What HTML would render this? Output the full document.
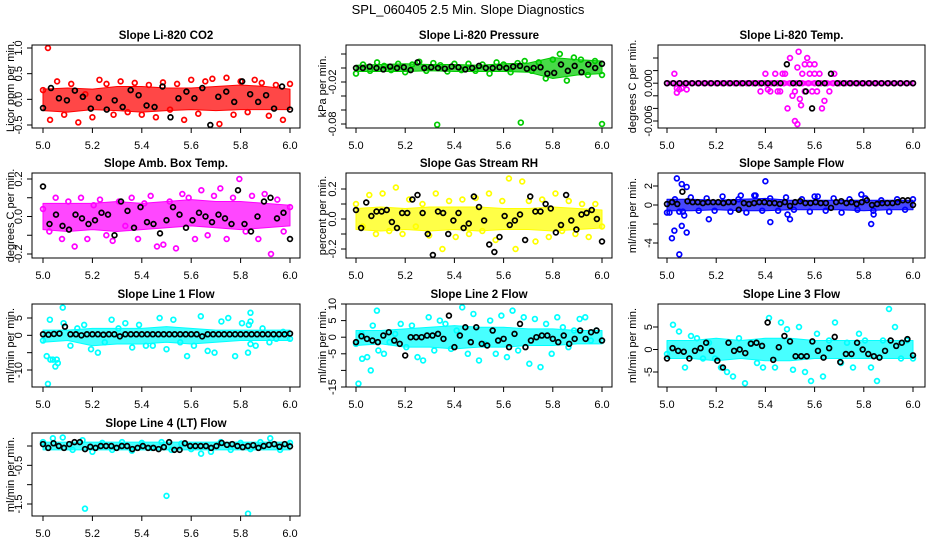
<!DOCTYPE html>
<html><head><meta charset="utf-8"><style>
html,body{margin:0;padding:0;background:#fff;}
svg{display:block;font-family:"Liberation Sans",Helvetica,Arial,sans-serif;}
</style></head><body>
<svg id="chart" width="936" height="540" viewBox="0 0 936 540" xmlns="http://www.w3.org/2000/svg">
<rect x="0" y="0" width="936" height="540" fill="#fff"/>
<text x="468" y="14" font-size="13" text-anchor="middle">SPL_060405  2.5 Min. Slope Diagnostics</text>
</svg>
<script>
// ---- data ----
const xTicks=[5.0,5.2,5.4,5.6,5.8,6.0];
const titles=["Slope Li-820 CO2","Slope Li-820 Pressure","Slope Li-820 Temp.","Slope Amb. Box Temp.","Slope Gas Stream RH","Slope Sample Flow","Slope Line 1 Flow","Slope Line 2 Flow","Slope Line 3 Flow","Slope Line 4 (LT) Flow"];
const yTitles=["Licor ppm per min.","kPa per min.","degrees C per min.","degrees C per min.","percent per min.","ml/min per min.","ml/min per min.","ml/min per min.","ml/min per min.","ml/min per min."];
const colors=["#ff0000","#00cc00","#ff00ff","#ff00ff","#ffff00","#0000ff","#00ffff","#00ffff","#00ffff","#00ffff"];
const yTickVals=[[1,0.5,0,-0.5],[0.02,0,-0.02,-0.04,-0.06,-0.08],[0.004,0.002,0,-0.002,-0.004,-0.006],[0.2,0.1,0,-0.1,-0.2],[0.2,0.1,0,-0.1,-0.2],[2,0,-2,-4],[5,0,-5,-10],[10,5,0,-5,-10,-15],[5,0,-5],[0,-0.5,-1,-1.5]];
const yTickLabels=[["1.0","0.5","0.0","-0.5"],["","","-0.02","","","-0.08"],["","","0.000","","","-0.006"],["0.2","","0.0","","-0.2"],["0.2","","0.0","","-0.2"],["2","0","","-4"],["5","0","","-10"],["10","5","0","-5","","-15"],["5","0","-5"],["","-0.5","","-1.5"]];
const bandLo=[[-0.22,-0.25,-0.2,-0.22,-0.25,-0.22,-0.2,-0.22,-0.2,-0.2,-0.2],[-0.005,-0.005,-0.005,-0.004,-0.005,-0.005,-0.005,-0.006,-0.015,-0.01,-0.008],[-0.0003,-0.0003,-0.0003,-0.0003,-0.0003,-0.0003,-0.0003,-0.0003,-0.0003,-0.0003,-0.0003],[-0.07,-0.08,-0.07,-0.08,-0.07,-0.06,-0.05,-0.06,-0.07,-0.06,-0.05],[-0.07,-0.08,-0.07,-0.08,-0.07,-0.08,-0.07,-0.07,-0.08,-0.07,-0.06],[-0.6,-0.6,-0.5,-0.6,-0.6,-0.5,-0.5,-0.5,-0.6,-0.5,-0.5],[-2,-1.5,-3,-2.5,-2.5,-2,-2.5,-2,-1.5,-1.5,-1.5],[-2.5,-2,-3,-3,-3.5,-3,-3,-2.5,-2.5,-2,-2],[-2,-2,-2.5,-2,-2.5,-2.5,-2,-2,-2,-2,-2],[-0.1,-0.1,-0.1,-0.1,-0.1,-0.1,-0.1,-0.1,-0.1,-0.1,-0.1]];
const bandHi=[[0.2,0.22,0.2,0.25,0.25,0.22,0.22,0.25,0.28,0.25,0.2],[0.004,0.005,0.006,0.005,0.005,0.004,0.006,0.007,0.015,0.012,0.01],[0.0003,0.0003,0.0003,0.0003,0.0003,0.0003,0.0003,0.0003,0.0003,0.0003,0.0003],[0.07,0.07,0.07,0.08,0.07,0.08,0.09,0.08,0.08,0.07,0.06],[0.07,0.08,0.07,0.08,0.08,0.08,0.07,0.07,0.08,0.07,0.06],[0.6,0.6,0.5,0.6,0.7,0.5,0.5,0.5,0.5,0.5,0.5],[1.5,1.5,2,2,2,2.5,2,1.5,1.5,1.5,1.5],[2,2,2.5,3,3.5,3,3,2.5,2.5,2,2],[2,2,2.5,2,2.5,2.5,2,2,2,2,2],[0.1,0.1,0.1,0.1,0.1,0.1,0.1,0.1,0.1,0.1,0.1]];
const scatterVals=[
[0.18,-0.4,0.35,-0.3,0.3,-0.45,0.1,-0.35,0.38,0.3,-0.3,0.35,-0.25,0.32,-0.3,0.28,-0.35,0.33,-0.2,0.3,-0.4,0.38,-0.28,0.35,0.4,-0.48,0.42,-0.3,0.35,-0.25,0.38,0.32,-0.32,0.28,-0.4,0.3],
[-0.008,0.005,-0.004,0.008,0.003,-0.003,0.006,-0.006,0.005,0.009,-0.004,0.007,0.004,-0.005,0.006,-0.003,0.006,-0.004,0.005,-0.008,0.008,0.005,-0.006,0.007,0.01,-0.004,0.008,-0.015,0.012,0.02,-0.018,0.015,0.012,-0.01,0.01,-0.01],
[0,0,0,0,0,0,0,0,0,0,0,0,0,0,0,0,0,0,0,0,0,0,0,0,0,0,0,0,0,0,0,0,0,0,0,0,0,0,0,0,0],
[0.04,-0.08,0.1,-0.12,0.08,-0.16,0.1,-0.12,0.06,0.09,-0.1,-0.13,0.08,-0.05,0.1,-0.12,0.07,0.11,-0.16,-0.15,0.08,-0.17,0.12,0.1,-0.12,0.14,-0.1,0.11,0.15,-0.12,0.1,0.2,-0.08,0.11,-0.12,0.12,-0.2,0.09,-0.08,0.05],
[0.1,-0.05,0.16,-0.1,0.17,-0.08,0.21,-0.1,0.13,-0.05,0.1,-0.11,0.17,-0.2,0.12,-0.12,0.13,-0.1,0.14,-0.08,0.17,-0.14,0.12,0.27,-0.2,0.25,0.12,-0.15,0.13,-0.12,0.17,-0.08,0.12,-0.1,0.1,-0.12,0.1,-0.05],
[-0.8,0.6,-0.7,0.8,-0.6,0.7,-0.6,0.9,-0.7,0.6,-0.8,1.0,-0.6,0.7,-0.6,0.8,-0.5,0.6,-0.7,0.9,-0.6,0.7,-0.8,0.6,-0.5,0.7,-0.6,0.5,-0.7,0.6,-0.5,0.6],
[-1.5,4.5,-7,3.5,-3,2,3,-4,-5,-2,4.5,2,3.5,-3.5,3,-3,-3,5,-4,4.5,-2,-6,-3,5.5,-4.5,-5,4,5,-6,3.5,3,-3,2,-2,-1,1,-1],
[-2,1,-6,3.5,-4,-5,-1.5,1,4,-3,3.5,-6,-7,6,-4,5,4,-3.5,2,9,-5,7,-7,-2,5,-5,6.5,-6,8,-4,6,-8,5.5,-9,4,-5,6,3,-3,2,5.5,6,-1,2,-1],
[-1,5.5,4,-4,3,2.5,-2,1.5,-2,-4,-5,-6,2.5,-7.5,1.5,-3,-4,7,-4,6,4.5,-4.5,5,-5,-7,3.5,-6,2,6,-3,1.5,-4,3.5,2,-4,-7,2,9,5,-2,2,-2],
[0.1,0.2,0.22,-0.1,0.15,-0.15,0.08,-0.1,0.1,-0.12,0.08,-0.05,0.1,-0.1,0.06,-0.08,-0.2,-0.15,0.1,-0.1,0.08,-0.08,0.1,0.2,-0.1,0.08]];
const outX=[[5.02],[5.33,5.67,6.0],[5.03,5.04,5.05,5.06,5.08,5.04,5.40,5.42,5.44,5.46,5.47,5.48,5.49,5.50,5.51,5.52,5.53,5.535,5.54,5.55,5.56,5.57,5.58,5.59,5.60,5.61,5.62,5.63,5.64,5.66,5.68,5.38,5.41,5.45,5.52,5.56,5.58,5.60,5.53,5.545],[],[],[5.04,5.06,5.08,5.02,5.03,5.05,5.06,5.07,5.08,5.05,5.17,5.4,5.42,5.49,5.5,5.83,5.84,5.6,5.79,5.36,5.3,5.01],[5.02,5.015,5.03,5.04,5.05,5.06,5.08,5.84,5.84,5.83,5.84],[5.01,5.06,5.085,5.025],[],[5.17,5.5,5.83]];
const outY=[[1.0],[-0.081,-0.078,-0.08],[0.0015,-0.0008,-0.001,-0.0008,-0.001,-0.0015,0.0015,-0.0013,0.0015,-0.0013,0.0015,0.0015,-0.004,0.004,-0.002,-0.0013,0.0025,0.005,-0.0025,0.0015,-0.0013,0.004,0.003,-0.0013,0.0015,-0.0013,0.0015,-0.004,-0.0028,-0.0013,0.0015,-0.0013,-0.001,-0.0013,-0.006,0.003,0.0015,0.003,-0.0065,-0.0035],[],[],[2.8,2.2,1.9,-3.5,-2.7,-5.2,-2.2,-1.1,-2.9,-0.7,-1.5,2.5,-1.8,-1.0,-1.5,-2.0,-1.0,0.9,1.1,1.0,1.0,-0.8],[-14,-6,-7,-7,-9,-8,8,6.5,4,-5,-2.5],[-14,-10,8,-6.5],[],[-1.62,-1.29,-1.75]];
const blackVals=[
[-0.17,0.22,0.02,-0.02,0.17,0.05,-0.18,0.03,-0.2,-0.02,-0.15,0.18,0.08,-0.12,-0.15,0.25,-0.35,0.02,0.15,0.02,0.22,-0.5,0.05,0.15,-0.05,0.35,0.1,-0.05,0.08,-0.18,0.25,-0.2],
[0.0,0.0,0.002,0.0,-0.002,0.002,0.0,0.001,-0.003,0.008,0.0,0.001,0.0,-0.001,0.002,0.001,-0.002,0.0,0.003,0.0,0.0,0.001,0.0,0.002,0.003,-0.001,0.0,0.001,-0.008,-0.007,0.005,-0.004,0.003,-0.006,0.005,0.0,0.006],
[0,0,0,0,0,0,0,0,0,0,0,0,0,0,0,0,0,0,0,0.003,0,0,-0.0013,-0.004,0,0,0.0015,0,0,0,0,0,0,0,0,0,0,0,0,0],
[0.16,-0.04,0.01,-0.05,-0.07,0.01,-0.01,-0.04,-0.02,0.02,0.01,-0.1,0.08,0.03,-0.06,0.05,-0.03,-0.04,-0.09,-0.02,0.05,0.01,-0.06,-0.02,0.02,0.0,-0.03,0.01,-0.01,-0.04,0.14,-0.04,-0.08,0.0,0.08,0.1,-0.01,0.02,-0.12],
[0.06,-0.06,0.11,0.02,0.05,0.05,0.06,-0.02,-0.06,0.04,0.04,0.13,0.16,0.04,-0.1,-0.24,0.05,0.04,-0.1,-0.01,0.04,-0.06,-0.03,0.15,0.08,-0.01,-0.17,-0.22,-0.12,0.02,-0.04,-0.01,0.03,-0.14,0.15,0.05,0.05,0.1,0.07,-0.09,-0.04,0.16,-0.01,-0.07,0.03,0.04,0.06,0.0,-0.15],
[0.1,0.3,0.1,1.4,0.4,0.3,0.3,0.2,0.3,0.3,0.3,0.2,0.3,0.3,-0.5,0.2,0.1,0.2,0.3,0.3,0.2,0.2,0.1,0.3,-0.1,0.3,0.4,0.2,0.2,0.3,0.2,0.2,-0.3,0.3,0.4,0.2,0.3,0.1,0.3,0.5,0.0,0.1,0.2,0.2,0.2,0.3,0.5,0.5,0.0],
[0.3,0.2,0.4,0.5,2.5,0.3,0.3,0.0,0.3,0.3,0.3,0.2,0.3,0.3,-0.3,0.3,0.3,0.3,0.3,0.3,0.3,0.3,0.3,0.3,0.3,0.3,0.3,0.3,0.3,-0.3,0.3,0.3,0.3,0.3,0.3,0.3,0.3,0.3,0.3,0.3,0.3,0.3,0.3,0.3,0.3,0.5],
[-1.5,0.3,-0.5,-1,-1.5,0.5,1.5,-1,-2,-5.5,0,0,0,0.5,0.5,1,-0.5,6.5,-3,0.5,3,-1.5,3,-2,-2.5,2,-1,-0.5,-3,1,4,-3,-1,0,0.5,0.5,-0.5,-1.5,0.5,-2,-0.5,2,-0.5,1.5,2,-1],
[-2,0.3,-0.3,-0.5,-2,-0.3,0.3,1.5,-0.3,-2.5,-4,1.5,-0.3,0,-0.8,1.3,1.5,0.8,6,-2.3,0.5,3,1.8,-1.5,-1.5,-1.5,1.8,-0.3,-1.8,0.3,2.8,-2.8,-1,-1,1.5,0,-1,-1.5,-1.8,-0.3,2,0.8,1.5,2.3,-1.3],
[0.05,-0.05,0.07,0.0,-0.05,0.05,0.1,0.1,-0.08,-0.02,-0.05,0.0,0.0,0.0,-0.05,0.0,0.0,-0.08,-0.05,0.0,-0.05,-0.05,-0.08,-0.03,0.1,-0.1,-0.1,0.07,0.0,0.0,0.0,0.0,-0.05,0.0,0.08,0.03,0.05,0.0,-0.03,0.0,0.02,-0.05,0.0,0.03,0.05,-0.02,0.05,-0.01]];

// ---- layout ----
const cols=[{l:32,r:300,x0:43,x1:290,lab:18,yt:10},{l:346,r:612,x0:356,x1:602,lab:332,yt:322},{l:658,r:925,x0:667,x1:913,lab:648,yt:632}];
const rows=[{t:45,b:128},{t:173,b:258},{t:304,b:387},{t:433,b:516}];
const yAnch=[[[1,48],[-0.5,125]],[[0.02,54],[-0.08,124]],[[0.004,58],[-0.006,121]],[[0.2,179],[-0.2,254]],[[0.2,189],[-0.2,249]],[[2,186],[-4,243]],[[5,318],[-10,370]],[[10,304],[-15,387]],[[5,327],[-5,372]],[[0,446],[-1.5,504]]];
const NS="http://www.w3.org/2000/svg";
const svg=document.getElementById('chart');
function mk(tag,attrs,parent){const e=document.createElementNS(NS,tag);for(const k in attrs)e.setAttribute(k,attrs[k]);parent.appendChild(e);return e;}
for(let p=0;p<10;p++){
  const c=cols[p%3], r=rows[Math.floor(p/3)];
  const g=mk('g',{},svg);
  
  
  const xs=v=>c.x0+(v-5)*(c.x1-c.x0);
  const a=yAnch[p];
  const ys=v=>a[0][1]+(v-a[0][0])*(a[1][1]-a[0][1])/(a[1][0]-a[0][0]);
  const col=colors[p];
  const clip=mk('clipPath',{id:'cp'+p},g);
  mk('rect',{x:c.l,y:r.t,width:c.r-c.l,height:r.b-r.t},clip);
  const pg=mk('g',{'clip-path':'url(#cp'+p+')'},g);
  
  
  const sv=scatterVals[p];
  sv.forEach((v,i)=>{const ci=mk('circle',{cx:xs(5+i/(sv.length-1)),cy:ys(v),r:2.4,fill:'none',stroke:col,'stroke-width':1.7},pg);
    
    });
  outX[p].forEach((x,i)=>{const ci=mk('circle',{cx:xs(x),cy:ys(outY[p][i]),r:2.4,fill:'none',stroke:col,'stroke-width':1.7},pg);
    
    });
  const lo=bandLo[p], hi=bandHi[p];
  let pts=[];
  hi.forEach((v,i)=>pts.push(xs(5+i/(hi.length-1))+','+ys(v)));
  for(let i=lo.length-1;i>=0;i--)pts.push(xs(5+i/(lo.length-1))+','+ys(lo[i]));
  const band=mk('polygon',{points:pts.join(' '),fill:col,'fill-opacity':0.72,stroke:col,'stroke-width':1,'stroke-linejoin':'round'},pg);
  
  
  const bv=blackVals[p];
  bv.forEach((v,i)=>{const ci=mk('circle',{cx:xs(5+i/(bv.length-1)),cy:ys(v),r:2.4,fill:'none',stroke:'#000','stroke-width':1.7},pg);
    
    });
  const fr=mk('rect',{x:c.l,y:r.t,width:c.r-c.l,height:r.b-r.t,fill:'none',stroke:'#000','stroke-width':1},g);
  
  
  const tt=mk('text',{x:(c.l+c.r)/2,y:r.t-6,'font-size':11.5,'font-weight':'bold','text-anchor':'middle'},g);
  tt.textContent=titles[p];
  
  
  xTicks.forEach(v=>{const x=xs(v);
    const tk=mk('line',{x1:x,x2:x,y1:r.b,y2:r.b+5,stroke:'#000'},g);
    
    
    const tl=mk('text',{x:x,y:r.b+21,'font-size':11,'text-anchor':'middle'},g);
    tl.textContent=v.toFixed(1);
    
    });
  yTickVals[p].forEach((v,i)=>{const y=ys(v);
    const tk=mk('line',{x1:c.l-5,x2:c.l,y1:y,y2:y,stroke:'#000'},g);
    
    
    const lab=yTickLabels[p][i];
    if(lab){const tl=mk('text',{x:c.lab+4,y:y,'font-size':11,'text-anchor':'middle',transform:'rotate(-90 '+(c.lab+4)+' '+y+')'},g);
      tl.textContent=lab;
      
      }});
  const ym=(r.t+r.b)/2;
  const yt=mk('text',{x:c.yt+4,y:ym,'font-size':11,'text-anchor':'middle',transform:'rotate(-90 '+(c.yt+4)+' '+ym+')'},g);
  yt.textContent=yTitles[p];
  
  
}
</script>
</body></html>
